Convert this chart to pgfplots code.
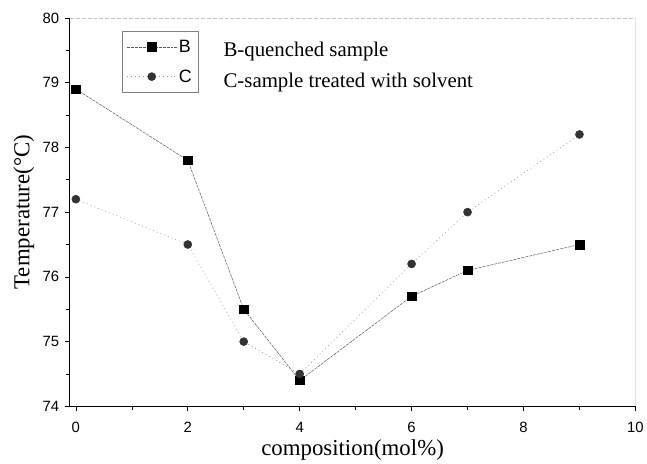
\documentclass[border=0pt]{standalone}
\usepackage{fontspec}
\setmainfont{Liberation Serif}
\setsansfont{Liberation Sans}
\usepackage{pgfplots}
\pgfplotsset{compat=1.18}
\usetikzlibrary{calc}
\begin{document}
\begin{tikzpicture}
\begin{axis}[
  scale only axis, width=568bp, height=390bp,
  xmin=-0.11, xmax=10, ymin=74, ymax=80,
  xtick={0,2,4,6,8,10}, ytick={74,75,76,77,78,79,80},
  minor x tick num=1, minor y tick num=1,
  axis x line*=bottom, axis y line*=left,
  axis line style={-, black, line width=0.8pt},
  tick align=outside,
  major tick length=5bp, minor tick length=3.5bp,
  tick style={black, line width=0.6pt},
  /pgf/number format/assume math mode=true,
  ticklabel style={font=\sffamily\fontsize{15}{15}\selectfont},
  yticklabel style={xshift=-2bp},
  xticklabel style={yshift=-7bp},
  xlabel={composition(mol\%)},
  ylabel={Temperature(°C)},
  label style={font=\fontsize{23}{23}\selectfont},
  xlabel style={at={(axis description cs:0.5,-0.113)}, anchor=center},
  ylabel style={at={(axis description cs:-0.081,0.5)}, anchor=center},
  legend style={at={(rel axis cs:0.093,0.967)}, anchor=north west,
    draw=gray, line width=0.5pt, font=\sffamily\fontsize{18}{18}\selectfont,
    row sep=12bp, inner xsep=4bp, inner ysep=7bp},
  legend cell align=left,
  legend image code/.code={\draw[mark repeat=2,mark phase=2,#1] plot coordinates {(0bp,0bp) (25bp,0bp) (50bp,0bp)};},
]
\addplot[gray!70!black, line width=0.5pt, dash pattern=on 3pt off 1pt,
  mark=square*, mark size=4.3bp, mark options={solid, fill=black, draw=black}]
  coordinates {(0,78.9) (2,77.8) (3,75.5) (4,74.4) (6,75.7) (7,76.1) (9,76.5)};
\addlegendentry{B}
\addplot[gray!80, line width=0.6pt, dash pattern=on 1pt off 3pt,
  mark=*, mark size=4bp, mark options={solid, fill=black!80, draw=black!80}]
  coordinates {(0,77.2) (2,76.5) (3,75.0) (4,74.5) (6,76.2) (7,77.0) (9,78.2)};
\addlegendentry{C}
\draw[gray!45, line width=0.6pt, dash pattern=on 4pt off 2pt] (rel axis cs:0,1) -- (rel axis cs:1,1);
\draw[gray!70, line width=0.6pt] (rel axis cs:1,1) -- (rel axis cs:1,0);
\node[anchor=west, font=\fontsize{21}{21}\selectfont, inner sep=0pt] at (rel axis cs:0.2716,0.914) {B-quenched sample};
\node[anchor=west, font=\fontsize{21}{21}\selectfont, inner sep=0pt] at (rel axis cs:0.2716,0.834) {C-sample treated with solvent};
\end{axis}
\useasboundingbox ($(current axis.south west)+(-70bp,-54bp)$) rectangle ($(current axis.north east)+(9bp,18bp)$);
\end{tikzpicture}
\end{document}
